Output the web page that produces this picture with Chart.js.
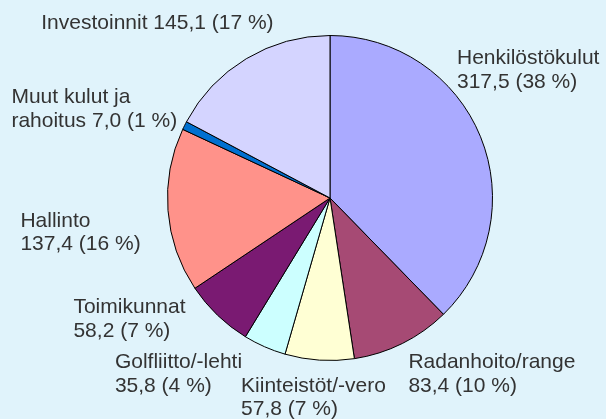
<!DOCTYPE html>
<html>
<head>
<meta charset="utf-8">
<script src="https://cdn.jsdelivr.net/npm/chart.js@4"></script>
<style>
    html, body { margin: 0; padding: 0; background: #e0f3fb; }
    #wrap { width: 606px; height: 419px; }
</style>
</head>
<body>
<div id="wrap"><canvas id="costChart" width="606" height="419"></canvas></div>
<script>
const categories = ['Henkilöstökulut', 'Radanhoito/range', 'Kiinteistöt/-vero', 'Golfliitto/-lehti', 'Toimikunnat', 'Hallinto', 'Muut kulut ja rahoitus', 'Investoinnit'];
const values = [317.5, 83.4, 57.8, 35.8, 58.2, 137.4, 7.0, 145.1];
const percents = [38, 10, 7, 4, 7, 16, 1, 17];

const colors = ['#aaaaff', '#a64a74', '#ffffd4', '#ccffff', '#7a1a72', '#ff928a', '#0070d0', '#d4d4ff'];

// label text per slice, block alignment and offset (to first baseline) from the slice's outer edge
const labelLines = [
    ['Henkilöstökulut', '{v} ({p} %)'],
    ['Radanhoito/range', '{v} ({p} %)'],
    ['Kiinteistöt/-vero', '{v} ({p} %)'],
    ['Golfliitto/-lehti', '{v} ({p} %)'],
    ['Toimikunnat', '{v} ({p} %)'],
    ['Hallinto', '{v} ({p} %)'],
    ['Muut kulut ja', 'rahoitus {v} ({p} %)'],
    ['Investoinnit {v} ({p} %)'],
];
const labelAlign = ['left', 'left', 'center', 'right', 'right', 'right', 'right', 'right'];
const labelOffset = [[-23.5, -72.7], [6, 25], [-6, 31.6], [-22.5, 21.7], [-32, -2], [-27.3, 16.2], [-7.4, -22.3], [27.3, -29.3]];

const fmt = (v) => v.toFixed(1).replace('.', ',');

const sliceLabels = {
    id: 'sliceLabels',
    afterDraw(chart) {
        const { ctx } = chart;
        const arcs = chart.getDatasetMeta(0).data;
        ctx.save();
        ctx.font = '21px "Liberation Sans", Arial, sans-serif';
        ctx.fillStyle = '#333333';
        ctx.textBaseline = 'alphabetic';
        ctx.textAlign = 'left';
        const lh = 23.5;
        arcs.forEach((arc, i) => {
            const mid = (arc.startAngle + arc.endAngle) / 2;
            const ax = arc.x + Math.cos(mid) * arc.outerRadius + labelOffset[i][0];
            const ay = arc.y + Math.sin(mid) * arc.outerRadius + labelOffset[i][1];
            const lines = labelLines[i].map((l) => l.replace('{v}', fmt(values[i])).replace('{p}', percents[i]));
            const w = Math.max(...lines.map((l) => ctx.measureText(l).width));
            let left = ax;
            if (labelAlign[i] === 'right') left = ax - w;
            if (labelAlign[i] === 'center') left = ax - w / 2;
            lines.forEach((l, k) => ctx.fillText(l, left, ay + k * lh));
        });
        ctx.restore();
    },
};

new Chart(document.getElementById('costChart'), {
    type: 'pie',
    data: {
        labels: categories,
        datasets: [{
            data: values,
            backgroundColor: colors,
            borderColor: '#000000',
            borderWidth: 1,
        }],
    },
    options: {
        responsive: false,
        animation: false,
        layout: { padding: { top: 35, bottom: 58, left: 100, right: 46 } },
        plugins: {
            legend: { display: false },
            tooltip: { enabled: false },
        },
    },
    plugins: [sliceLabels],
});
</script>
</body>
</html>
